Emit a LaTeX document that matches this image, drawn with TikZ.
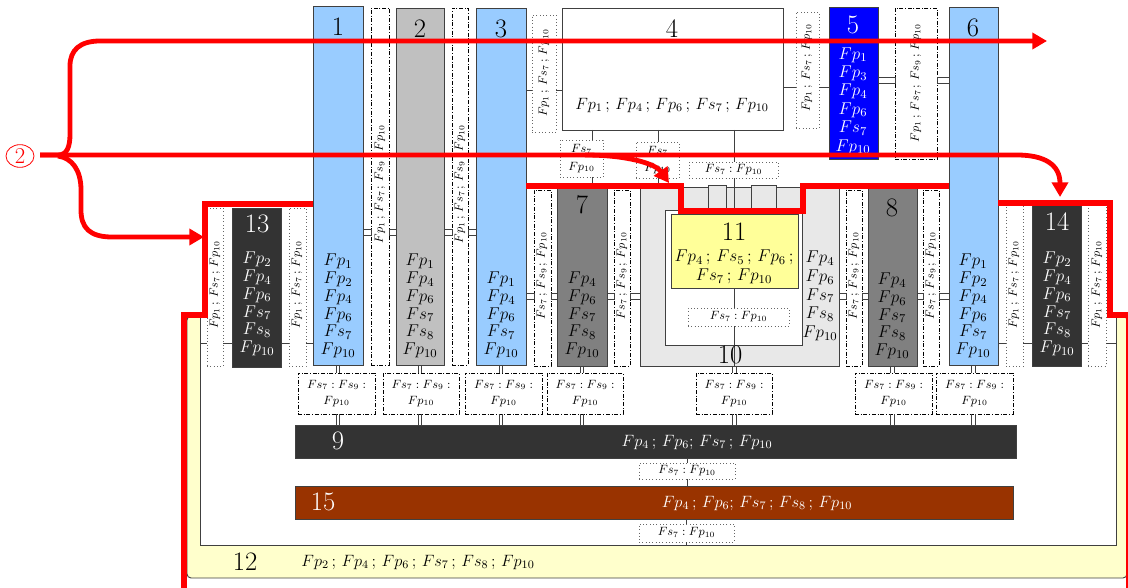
\RequirePackage{fix-cm}
\documentclass[tikz,border=0pt]{standalone}
\usetikzlibrary{arrows.meta,fit,shapes.geometric}
\definecolor{lblue}{HTML}{99CCFF}
\definecolor{gtwo}{HTML}{C0C0C0}
\definecolor{gseven}{HTML}{808080}
\definecolor{dk}{HTML}{333333}
\definecolor{bfive}{HTML}{0000FF}
\definecolor{gten}{HTML}{E8E8E8}
\definecolor{yel}{HTML}{FFFF99}
\definecolor{brn}{HTML}{993300}
\definecolor{ytw}{HTML}{FFFFCC}
\definecolor{bd}{HTML}{404040}
\newcommand\Sc{\,;\,}
\newcommand\mydvl[3]{%
  \draw[cn] ([xshift=-1.3pt]#1.south) -- ([xshift=-1.3pt]#1.south |- #2.north)
            ([xshift=1.3pt]#1.south) -- ([xshift=1.3pt]#1.south |- #2.north)
            ([xshift=-1.3pt]#1.south |- #2.south) -- ([xshift=-1.3pt]#1.south |- #3.north)
            ([xshift=1.3pt]#1.south |- #2.south) -- ([xshift=1.3pt]#1.south |- #3.north);}
\begin{document}
\begin{tikzpicture}[x=0.75pt,y=-0.75pt,
  bx/.style={draw=bd, line width=0.6pt, inner sep=0pt, outer sep=0pt},
  ddb/.style={draw=black, line width=0.45pt, fill=white, inner sep=0pt, outer sep=0pt,
              dash pattern=on 3pt off 1.3pt on 0.7pt off 1.3pt},
  dtb/.style={draw=black!60, line width=0.5pt, fill=white, inner sep=0pt, outer sep=0pt, dotted},
  num/.style={font=\fontsize{20}{22}\selectfont, inner sep=0pt},
  ctxt/.style={font=\fontsize{12.8}{13.3}\selectfont, align=center, inner sep=0pt},
  htxt/.style={font=\fontsize{12.3}{13.3}\selectfont, align=center, inner sep=0pt},
  stxt/.style={font=\fontsize{9}{12}\selectfont, align=center, inner sep=0pt},
  rtxt/.style={stxt, rotate=90},
  cn/.style={draw=bd, line width=0.6pt},
  dcn/.style={draw=bd, line width=0.5pt, fill=white},
  redln/.style={draw=red, line width=4.6pt, line join=miter},
  redar/.style={draw=red, line width=3.6pt, -{Triangle[length=11pt,width=12pt]}}]
\useasboundingbox (0,0) rectangle (1128,588);

% ---------- panel 12 ----------
\node[fit={(187,316) (1127,578)}, inner sep=0pt, fill=ytw, draw=bd, line width=0.7pt, rounded corners=3pt] (p12) {};
\node[fit={(201,312) (1116,545)}, inner sep=0pt, fill=white] (p12i) {};
\draw[bd, line width=0.7pt] (p12i.north west) -- (p12i.south west) -- (p12i.south east) -- (p12i.north east);
\node[num] (l12) at (245,562) {12};
\node[htxt] (t12) at (418,562) {$Fp_2\Sc Fp_4\Sc Fp_6\Sc Fs_7\Sc Fs_8\Sc Fp_{10}$};

% ---------- top row ----------
\node[bx, fill=lblue, fit={(313,6) (363,365)}] (b1) {};
\node[num] (l1) at (338,27) {1};
\node[ctxt] (t1) at (338,306) {$Fp_1$\\$Fp_2$\\$Fp_4$\\$Fp_6$\\$Fs_7$\\$Fp_{10}$};
\node[ddb, fit={(371,8) (389,365)}] (dd12) {};
\node[rtxt] (r12) at (380,184) {$Fp_1\Sc Fs_7\Sc Fs_9\Sc Fp_{10}$};
\node[bx, fill=gtwo, fit={(396,8) (444,365)}] (b2) {};
\node[num] (l2) at (420,29) {2};
\node[ctxt] (t2) at (420,306) {$Fp_1$\\$Fp_4$\\$Fp_6$\\$Fs_7$\\$Fs_8$\\$Fp_{10}$};
\node[ddb, fit={(452,8) (468,365)}] (dd23) {};
\node[rtxt] (r23) at (460,184) {$Fp_1\Sc Fs_7\Sc Fs_9\Sc Fp_{10}$};
\node[bx, fill=lblue, fit={(476,8) (526,365)}] (b3) {};
\node[num] (l3) at (501,29) {3};
\node[ctxt] (t3) at (501,315) {$Fp_1$\\$Fp_4$\\$Fp_6$\\$Fs_7$\\$Fp_{10}$};
\node[dtb, fit={(532,15) (556,132)}] (dt34) {};
\node[rtxt] (r34) at (544,73) {$Fp_1\Sc Fs_7\Sc Fp_{10}$};
\node[bx, fill=white, fit={(562,8) (783,130)}] (b4) {};
\node[num] (l4) at (672,29) {4};
\node[htxt] (t4) at (672,105) {$Fp_1\Sc Fp_4\Sc Fp_6\Sc Fs_7\Sc Fp_{10}$};
\node[dtb, fit={(796,12) (819,128)}] (dt45) {};
\node[rtxt] (r45) at (807,68) {$Fp_1\Sc Fs_7\Sc Fp_{10}$};
\node[bx, fill=bfive, fit={(829,7) (878,159)}] (b5) {};
\node[num, text=white] (l5) at (853,25) {5};
\node[ctxt, text=white, font=\fontsize{12.8}{13.8}\selectfont] (t5) at (853,101) {$Fp_1$\\$Fp_3$\\$Fp_4$\\$Fp_6$\\$Fs_7$\\$Fp_{10}$};
\node[ddb, fit={(895,8) (937,159)}] (dd56) {};
\node[rtxt] (r56) at (916,83) {$Fp_1\Sc Fs_7\Sc Fs_9\Sc Fp_{10}$};
\node[bx, fill=lblue, fit={(949,7) (998,365)}] (b6) {};
\node[num] (l6) at (973,28) {6};
\node[ctxt] (t6) at (973,306) {$Fp_1$\\$Fp_2$\\$Fp_4$\\$Fp_6$\\$Fs_7$\\$Fp_{10}$};

% connectors of the top row
\draw[dcn] (b1.east |- 0,229) rectangle (dd12.west |- 0,235);
\draw[dcn] (dd12.east |- 0,229) rectangle (b2.west |- 0,235);
\draw[dcn] (b2.east |- 0,229) rectangle (dd23.west |- 0,235);
\draw[dcn] (dd23.east |- 0,229) rectangle (b3.west |- 0,235);
\draw[cn] (b3.east |- 0,90) -- (dt34.west |- 0,90) (dt34.east |- 0,90) -- (b4.west |- 0,90);
\draw[cn] (b4.east |- 0,87) -- (dt45.west |- 0,87) (dt45.east |- 0,87) -- (b5.west |- 0,87);
\draw[dcn] (b5.east |- 0,77) rectangle (dd56.west |- 0,83);
\draw[dcn] (dd56.east |- 0,77) rectangle (b6.west |- 0,83);

% ---------- middle row ----------
\node[ddb, fit={(534,190) (551,366)}] (dd37) {};
\node[rtxt] (r37) at (542,276) {$Fs_7\Sc Fs_9\Sc Fp_{10}$};
\node[bx, fill=gseven, fit={(557,188) (607,366)}] (b7) {};
\node[num] (l7) at (582,205) {7};
\node[ctxt] (t7) at (582,315) {$Fp_4$\\$Fp_6$\\$Fs_7$\\$Fs_8$\\$Fp_{10}$};
\node[ddb, fit={(614,190) (630,366)}] (dd710) {};
\node[rtxt] (r710) at (622,276) {$Fs_7\Sc Fs_9\Sc Fp_{10}$};
\node[bx, fill=gten, fit={(640,187) (839,366)}] (b10) {};
\node[bx, fill=gten, fit={(708,185) (726,210)}] (bu1) {};
\node[bx, fill=gten, fit={(751,185) (776,210)}] (bu2) {};
\node[bx, fill=white, fit={(665,210) (802,345)}] (b10i) {};
\node[bx, fill=yel, fit={(671,214) (798,288)}] (b11) {};
\node[num] (l11) at (734,232) {11};
\node[ctxt, font=\fontsize{12.8}{14.2}\selectfont] (t11) at (734,267) {$Fp_4\Sc Fs_5\Sc Fp_6\,;$\\$Fs_7\Sc Fp_{10}$};
\node[dtb, fit={(688,308) (789,326)}] (dtD) {};
\node[stxt] (tD) at (dtD) {$Fs_7 : Fp_{10}$};
\node[ctxt, font=\fontsize{12.8}{14}\selectfont] (t10) at (820,296) {$Fp_4$\\$Fp_6$\\$Fs_7$\\$Fs_8$\\$Fp_{10}$};
\node[ddb, fit={(846,190) (862,366)}] (dd108) {};
\node[rtxt] (r108) at (854,276) {$Fs_7\Sc Fs_9\Sc Fp_{10}$};
\node[bx, fill=gseven, fit={(868,188) (917,366)}] (b8) {};
\node[num] (l8) at (892,208) {8};
\node[ctxt] (t8) at (892,316) {$Fp_4$\\$Fp_6$\\$Fs_7$\\$Fs_8$\\$Fp_{10}$};
\node[ddb, fit={(923,190) (939,366)}] (dd86) {};
\node[rtxt] (r86) at (931,276) {$Fs_7\Sc Fs_9\Sc Fp_{10}$};

% boxes under 4
\node[dtb, fit={(560,140) (603,177)}] (dtA) {};
\node[stxt, font=\fontsize{9}{13}\selectfont] (tA) at (dtA) {$Fs_7$\\$Fp_{10}$};
\node[dtb, fit={(636,142) (679,178)}] (dtB) {};
\node[stxt, font=\fontsize{9}{13}\selectfont] (tB) at (dtB) {$Fs_7$\\$Fp_{10}$};
\node[dtb, fit={(689,162) (778,178)}] (dtC) {};
\node[stxt] (tC) at (dtC) {$Fs_7 : Fp_{10}$};

\draw[cn] (b4.south -| 592,0) -- (dtA.north -| 592,0) (dtA.south -| 592,0) -- (b7.north -| 592,0);
\draw[cn] (b4.south -| 658,0) -- (dtB.north -| 658,0) (dtB.south -| 658,0) -- (b10.north -| 658,0);
\draw[cn] (b4.south -| 734,0) -- (dtC.north -| 734,0) (dtC.south -| 734,0) -- (b11.north -| 734,0);
\draw[cn] (b11.south -| 734,0) -- (dtD.north -| 734,0) (dtD.south -| 734,0) -- (b10.south -| 734,0);
\node[num] (l10) at (730,355) {10};

\draw[dcn] (b3.east |- 0,293) rectangle (dd37.west |- 0,299);
\draw[dcn] (dd37.east |- 0,293) rectangle (b7.west |- 0,299);
\draw[dcn] (b7.east |- 0,293) rectangle (dd710.west |- 0,299);
\draw[dcn] (dd710.east |- 0,293) rectangle (b10.west |- 0,299);
\draw[dcn] (b10.east |- 0,293) rectangle (dd108.west |- 0,299);
\draw[dcn] (dd108.east |- 0,293) rectangle (b8.west |- 0,299);
\draw[dcn] (b8.east |- 0,293) rectangle (dd86.west |- 0,299);
\draw[dcn] (dd86.east |- 0,293) rectangle (b6.west |- 0,299);

% ---------- 13 and 14 ----------
\node[dtb, fit={(207,208) (223,366)}] (dt13a) {};
\node[rtxt] (r13a) at (215,285) {$Fp_1\Sc Fs_7\Sc Fp_{10}$};
\node[bx, fill=dk, fit={(232,208) (281,367)}] (b13) {};
\node[num, text=white] (l13) at (257,224) {13};
\node[ctxt, text=white] (t13) at (257,304) {$Fp_2$\\$Fp_4$\\$Fp_6$\\$Fs_7$\\$Fs_8$\\$Fp_{10}$};
\node[dtb, fit={(289,208) (306,366)}] (dt13b) {};
\node[rtxt] (r13b) at (297,285) {$Fp_1\Sc Fs_7\Sc Fp_{10}$};
\draw[cn] (p12i.west |- 0,343) -- (dt13a.west |- 0,343) (dt13a.east |- 0,343) -- (b13.west |- 0,343)
          (b13.east |- 0,343) -- (dt13b.west |- 0,343) (dt13b.east |- 0,343) -- (b1.west |- 0,343);

\node[dtb, fit={(1006,205) (1023,366)}] (dt14a) {};
\node[rtxt] (r14a) at (1014,285) {$Fp_1\Sc Fs_7\Sc Fp_{10}$};
\node[bx, fill=dk, fit={(1032,205) (1081,366)}] (b14) {};
\node[num, text=white] (l14) at (1057,222) {14};
\node[ctxt, text=white] (t14) at (1057,304) {$Fp_2$\\$Fp_4$\\$Fp_6$\\$Fs_7$\\$Fs_8$\\$Fp_{10}$};
\node[dtb, fit={(1088,205) (1106,366)}] (dt14b) {};
\node[rtxt] (r14b) at (1097,285) {$Fp_1\Sc Fs_7\Sc Fp_{10}$};
\draw[cn] (b6.east |- 0,343) -- (dt14a.west |- 0,343) (dt14a.east |- 0,343) -- (b14.west |- 0,343)
          (b14.east |- 0,343) -- (dt14b.west |- 0,343) (dt14b.east |- 0,343) -- (p12i.east |- 0,343);

% ---------- lower part ----------
\node[ddb, fit={(298,373) (375,414)}] (e1) {};
\node[ddb, fit={(383,373) (459,414)}] (e2) {};
\node[ddb, fit={(465,373) (542,414)}] (e3) {};
\node[ddb, fit={(547,373) (623,414)}] (e4) {};
\node[ddb, fit={(696,373) (772,414)}] (e5) {};
\node[ddb, fit={(855,373) (932,414)}] (e6) {};
\node[ddb, fit={(936,373) (1013,414)}] (e7) {};
\foreach \e in {e1,e2,e3,e4,e5,e6,e7}{
  \node[stxt] (t\e) at (\e) {$Fs_7 : Fs_9 :$\\$Fp_{10}$};
}
\node[bx, fill=dk, fit={(295,425) (1016,458)}] (b9) {};
\node[num, text=white] (l9) at (338,441) {9};
\node[htxt, text=white] (t9) at (697,442) {$Fp_4\Sc Fp_6;\,Fs_7\Sc Fp_{10}$};
\node[dtb, fit={(639,463) (735,479)}] (dt9) {};
\node[stxt] (tt9) at (dt9) {$Fs_7 : Fp_{10}$};
\node[bx, fill=brn, fit={(295,486) (1013,519)}] (b15) {};
\node[num, text=white] (l15) at (323,502) {15};
\node[htxt, text=white] (t15) at (757,503) {$Fp_4\Sc Fp_6;\,Fs_7\Sc Fs_8\Sc Fp_{10}$};
\node[dtb, fit={(639,524) (734,542)}] (dt15) {};
\node[stxt] (tt15) at (dt15) {$Fs_7 : Fp_{10}$};

\mydvl{b1}{e1}{b9}
\mydvl{b2}{e2}{b9}
\mydvl{b3}{e3}{b9}
\mydvl{b7}{e4}{b9}
\mydvl{b8}{e6}{b9}
\mydvl{b6}{e7}{b9}
\draw[cn] ([xshift=-1.3pt]b10.south -| b11.south) -- ([xshift=-1.3pt]e5.north -| b11.south)
          ([xshift=1.3pt]b10.south -| b11.south) -- ([xshift=1.3pt]e5.north -| b11.south)
          ([xshift=-1.3pt]e5.south -| b11.south) -- ([xshift=-1.3pt]b9.north -| b11.south)
          ([xshift=1.3pt]e5.south -| b11.south) -- ([xshift=1.3pt]b9.north -| b11.south);
\draw[cn] (b9.south -| dt9.north) -- (dt9.north) (dt9.south) -- (b15.north -| dt9.south);
\draw[cn] (b15.south -| dt15.north) -- (dt15.north) (dt15.south) -- (p12i.south -| dt15.south);

% ---------- red boundary ----------
\draw[redln] (184,595) -- (184,315) -- (205,315) -- (205,204) -- (b1.west |- 0,204);
\draw[redln] (b3.east |- 0,186) -- (681,186) -- (681,211) -- (803,211) -- (803,186) -- (b6.west |- 0,186);
\draw[redln] (b6.east |- 0,203) -- (1110,203) -- (1110,315) -- (1129,315) -- (1129,595);

% ---------- red arrows ----------
\node[ellipse, draw=red, line width=0.6pt, text=red, inner sep=0pt, minimum width=21pt, minimum height=17pt,
      font=\fontsize{17}{17}\selectfont] (c2) at (20,156) {2};
\draw[redar] (40,155) -- (58,155) .. controls (67,155) and (70,147) .. (70,134) -- (70,66)
             .. controls (70,50) and (80,41) .. (100,41) -- (1047,41);
\draw[redar] (40,155) -- (1017,155) .. controls (1045,155) and (1060,165) .. (1060,197);
\draw[redar] (58,156) .. controls (72,158) and (81,170) .. (81,190) -- (81,210)
             .. controls (81,228) and (90,237) .. (112,237) -- (204,237);
\draw[redar] (585,155) .. controls (625,155) and (655,163) .. (669,183);
\end{tikzpicture}
\end{document}
